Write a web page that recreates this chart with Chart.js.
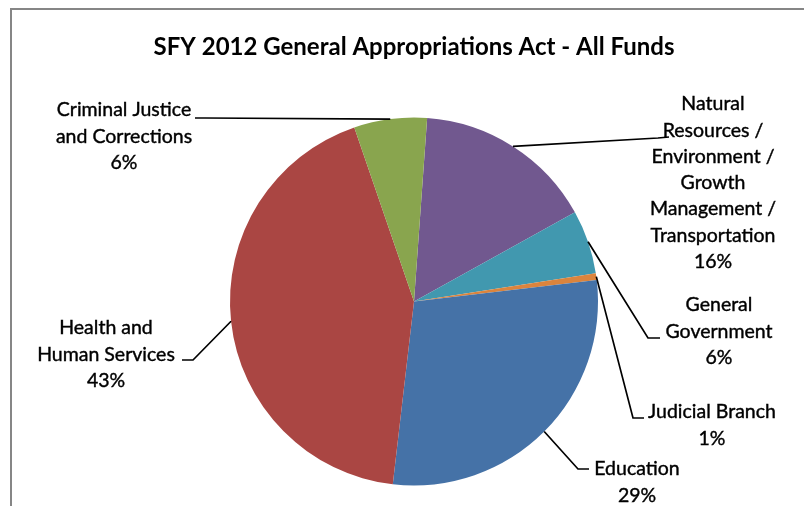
<!DOCTYPE html>
<html>
<head>
<meta charset="utf-8">
<script src="https://cdn.jsdelivr.net/npm/chart.js@4.4.0/dist/chart.umd.min.js"></script>
<style>
  html, body { margin: 0; padding: 0; background: #fff; overflow: hidden; }
  canvas { display: block; }
</style>
</head>
<body>
<canvas id="pieChart" width="804" height="506"></canvas>
<script>
// Data, clockwise from the top
const categories = [
    ['Natural', 'Resources /', 'Environment /', 'Growth', 'Management /', 'Transportation'],
    ['General', 'Government'],
    ['Judicial Branch'],
    ['Education'],
    ['Health and', 'Human Services'],
    ['Criminal Justice', 'and Corrections']
];
const shares = [15.8, 5.6, 0.6, 28.7, 42.9, 6.4];
const sliceColors = ['#71588F', '#4198AF', '#DB843D', '#4572A7', '#AA4643', '#89A54E'];

// Where each data label sits: text centre x, first line y, and where its leader line meets it
const labelLayout = [
    { x: 713, y: 104, attach: [669, 137], elbow: [658, 138] },
    { x: 719, y: 305, attach: [660, 338], elbow: [648, 338] },
    { x: 712, y: 412, attach: [644, 418], elbow: [633, 418] },
    { x: 637, y: 469, attach: [589, 469], elbow: [578, 469] },
    { x: 106, y: 328, attach: [182, 360], elbow: [193, 360] },
    { x: 124, y: 110, attach: [195, 118], elbow: [205, 118] }
];

const labelFont = '19.5px Lato';
const lineGap = 26.3;

const total = shares.reduce((a, b) => a + b, 0);
const pct = (v) => Math.round(v / total * 100) + '%';

const framePlugin = {
    id: 'frame',
    beforeDraw: (chart) => {
        const { ctx } = chart;
        ctx.save();
        ctx.fillStyle = '#ffffff';
        ctx.fillRect(0, 0, chart.width, chart.height);
        ctx.strokeStyle = '#868686';
        ctx.lineWidth = 2;
        ctx.strokeRect(11, 9, chart.width + 20, chart.height + 20);
        ctx.restore();
    }
};

const labelPlugin = {
    id: 'pieLabels',
    afterDatasetsDraw: (chart) => {
        const { ctx } = chart;
        const arcs = chart.getDatasetMeta(0).data;
        ctx.save();
        arcs.forEach((arc, i) => {
            const lay = labelLayout[i];
            const mid = (arc.startAngle + arc.endAngle) / 2;
            const px = arc.x + Math.cos(mid) * arc.outerRadius;
            const py = arc.y + Math.sin(mid) * arc.outerRadius;

            // leader line
            ctx.strokeStyle = '#000000';
            ctx.lineWidth = 1.7;
            ctx.beginPath();
            ctx.moveTo(px, py);
            ctx.lineTo(lay.elbow[0], lay.elbow[1]);
            ctx.lineTo(lay.attach[0], lay.attach[1]);
            ctx.stroke();

            // text, slightly thickened to look like the ClearType original
            const lines = categories[i].concat([pct(shares[i])]);
            ctx.fillStyle = '#000000';
            ctx.lineWidth = 0.4;
            ctx.font = labelFont;
            ctx.textAlign = 'center';
            ctx.textBaseline = 'middle';
            lines.forEach((t, k) => {
                ctx.fillText(t, lay.x, lay.y + k * lineGap);
                ctx.strokeText(t, lay.x, lay.y + k * lineGap);
            });
        });
        ctx.restore();
    }
};

new Chart(document.getElementById('pieChart'), {
    type: 'pie',
    data: {
        labels: categories,
        datasets: [{
            data: shares,
            backgroundColor: sliceColors,
            borderWidth: 0,
            hoverBorderWidth: 0,
            offset: 0,
            hoverOffset: 0
        }]
    },
    options: {
        responsive: false,
        animation: false,
        events: [],
        rotation: 4.1,
        layout: {
            padding: { left: 24, right: 0, top: 0, bottom: 20.5 }
        },
        plugins: {
            legend: { display: false },
            tooltip: { enabled: false },
            title: {
                display: true,
                text: 'SFY 2012 General Appropriations Act - All Funds',
                color: '#000000',
                font: { family: 'Lato', size: 24, weight: 'bold' },
                padding: { top: 32.6, bottom: 56.1 }
            }
        }
    },
    plugins: [framePlugin, labelPlugin]
});
</script>
</body>
</html>
